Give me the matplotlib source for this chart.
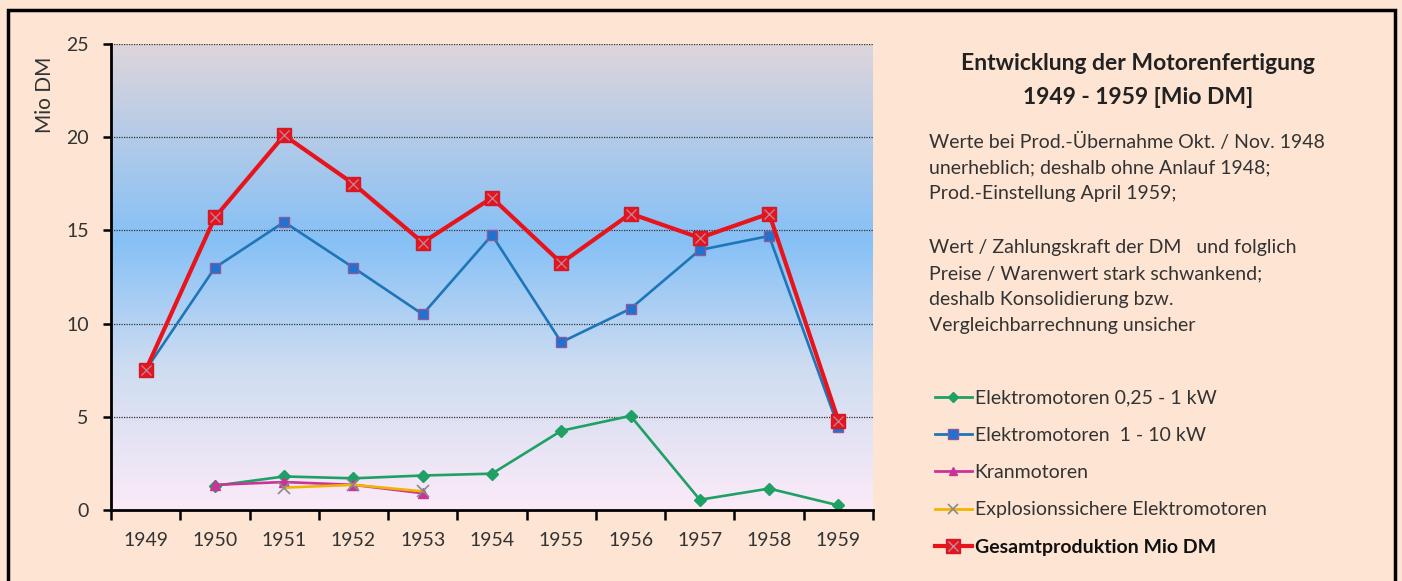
import numpy as np
import matplotlib
matplotlib.use("Agg")
import matplotlib.pyplot as plt
from matplotlib.colors import LinearSegmentedColormap
from matplotlib.patches import Rectangle
from matplotlib.lines import Line2D

plt.rcParams['font.family'] = ['Lato', 'DejaVu Sans']

years = ['1949', '1950', '1951', '1952', '1953', '1954', '1955', '1956', '1957', '1958', '1959']
nan = np.nan
elektro_small = [nan, 1.3, 1.8, 1.7, 1.85, 1.95, 4.25, 5.05, 0.55, 1.15, 0.25]
elektro_big = [7.5, 13.0, 15.45, 13.0, 10.5, 14.75, 9.0, 10.8, 13.95, 14.7, 4.45]
kran = [nan, 1.35, 1.5, 1.35, 0.9, nan, nan, nan, nan, nan, nan]
explosion = [nan, nan, 1.2, 1.35, 1.0, nan, nan, nan, nan, nan, nan]
gesamt = [7.5, 15.7, 20.1, 17.5, 14.35, 16.75, 13.25, 15.9, 14.6, 15.9, 4.8]

labels = ['Elektromotoren 0,25 - 1 kW', 'Elektromotoren  1 - 10 kW', 'Kranmotoren',
          'Explosionssichere Elektromotoren', 'Gesamtproduktion Mio DM']
title_lines = ['Entwicklung der Motorenfertigung', '1949 - 1959 [Mio DM]']
notes = ['Werte bei Prod.-Übernahme Okt. / Nov. 1948',
         'unerheblich; deshalb ohne Anlauf 1948;',
         'Prod.-Einstellung April 1959;',
         '',
         'Wert / Zahlungskraft der DM   und folglich',
         'Preise / Warenwert stark schwankend;',
         'deshalb Konsolidierung bzw.',
         'Vergleichbarrechnung unsicher']

W, H = 1402, 581
fig = plt.figure(figsize=(W / 100, H / 100), dpi=100)
bg = '#FDE4D3'
fig.patch.set_facecolor(bg)
fig.patches.append(Rectangle((8 / W, -0.02), (1395 - 8) / W, 1.02 - 10 / H,
                             transform=fig.transFigure, fill=False,
                             edgecolor='black', linewidth=2.5, zorder=10))

ax = fig.add_axes([111 / W, 1 - 510 / H, (873 - 111) / W, (510 - 44) / H])
x = np.arange(len(years))

# gradient background
cmap = LinearSegmentedColormap.from_list('g', [(0.0, '#FCEAF8'), (0.3, '#CFDDF1'),
                                               (0.58, '#86C0F6'), (1.0, '#DED5DB')])
grad = np.linspace(0, 1, 256).reshape(-1, 1)
ax.imshow(grad, aspect='auto', cmap=cmap, origin='lower',
          extent=(-0.5, len(years) - 0.5, 0, 25), zorder=0)

ax.set_xlim(-0.5, len(years) - 0.5)
ax.set_ylim(0, 25)

for yv in [5, 10, 15, 20, 25]:
    ax.axhline(yv, color='#333333', linestyle=(0, (1, 1)), linewidth=0.9, zorder=1)

ax.plot(x, elektro_small, color='#1FA065', lw=1.9, marker='D', ms=6,
        mfc='#1FA065', mec='#1FA065', zorder=3)
ax.plot(x, elektro_big, color='#1E76B8', lw=1.9, marker='s', ms=7,
        mfc='#2072D0', mec='#8A5A9A', zorder=3)
ax.plot(x, kran, color='#CC3399', lw=1.9, marker='^', ms=7,
        mfc='#CC3399', mec='#CC3399', zorder=3)
ax.plot(x, explosion, color='#F2B400', lw=1.9, zorder=3)
ax.plot(x, explosion, ls='none', marker='x', ms=8, mew=1.2, color='#8A8A8A', zorder=3)
ax.plot(x, gesamt, color='#E8141C', lw=3.0, marker='s', ms=10,
        mfc='#E8141C', mec='#D01A2A', zorder=4)
ax.plot(x, gesamt, ls='none', marker='x', ms=7, mew=0.9, color='#B88AA0', zorder=5)

ax.set_xticks(np.arange(-0.5, len(years), 1))
ax.set_xticklabels([])
ax.set_xticks(x, minor=True)
ax.set_xticklabels(years, minor=True)
ax.tick_params(axis='x', which='major', direction='out', length=7, width=1.8, color='black')
ax.tick_params(axis='x', which='minor', length=0, pad=16, labelsize=14, labelcolor='#333333')
ax.set_yticks([0, 5, 10, 15, 20, 25])
ax.tick_params(axis='y', direction='out', length=6, width=1.8, color='black',
               labelsize=14, labelcolor='#333333', pad=10)
for s in ['top', 'right']:
    ax.spines[s].set_visible(False)
for s in ['left', 'bottom']:
    ax.spines[s].set_linewidth(2)
    ax.spines[s].set_zorder(6)

fig.text(45 / W, 1 - 95 / H, 'Mio DM', rotation=90, ha='center', va='center',
         fontsize=15, color='#333333')

# title and notes
fig.text(1138 / W, 1 - 63 / H, title_lines[0], ha='center', va='center',
         fontsize=16.5, fontweight='bold', color='#222222')
fig.text(1138 / W, 1 - 97 / H, title_lines[1], ha='center', va='center',
         fontsize=16.5, fontweight='bold', color='#222222')
note_y = [142, 168, 194, 221, 248, 274, 300, 326]
for t, yy in zip(notes, note_y):
    if t:
        fig.text(929 / W, 1 - yy / H, t, ha='left', va='center', fontsize=14, color='#333333')

# legend
h_small = Line2D([], [], color='#1FA065', lw=2, marker='D', ms=5, mfc='#1FA065', mec='#1FA065')
h_big = Line2D([], [], color='#1E76B8', lw=2, marker='s', ms=7, mfc='#2072D0', mec='#8A5A9A')
h_kran = Line2D([], [], color='#CC3399', lw=2, marker='^', ms=6, mfc='#CC3399', mec='#CC3399')
h_ex1 = Line2D([], [], color='#F2B400', lw=2)
h_ex2 = Line2D([], [], ls='none', marker='x', ms=7, mew=1.2, color='#8A8A8A')
h_g1 = Line2D([], [], color='#E8141C', lw=3.0, marker='s', ms=10, mfc='#E8141C', mec='#D01A2A')
h_g2 = Line2D([], [], ls='none', marker='x', ms=7, mew=1.0, color='#B88AA0')
leg = fig.legend([h_small, h_big, h_kran, (h_ex1, h_ex2), (h_g1, h_g2)], labels,
                 loc='upper left', bbox_to_anchor=(927 / W, 1 - 382 / H),
                 frameon=False, fontsize=14, handlelength=1.9, handletextpad=0.15,
                 labelspacing=1.04, borderaxespad=0)
for t in leg.get_texts():
    t.set_color('#333333')
leg.get_texts()[-1].set_fontweight('bold')
leg.get_texts()[-1].set_color('#111111')

fig.savefig('out.png', dpi=100, facecolor=bg)
